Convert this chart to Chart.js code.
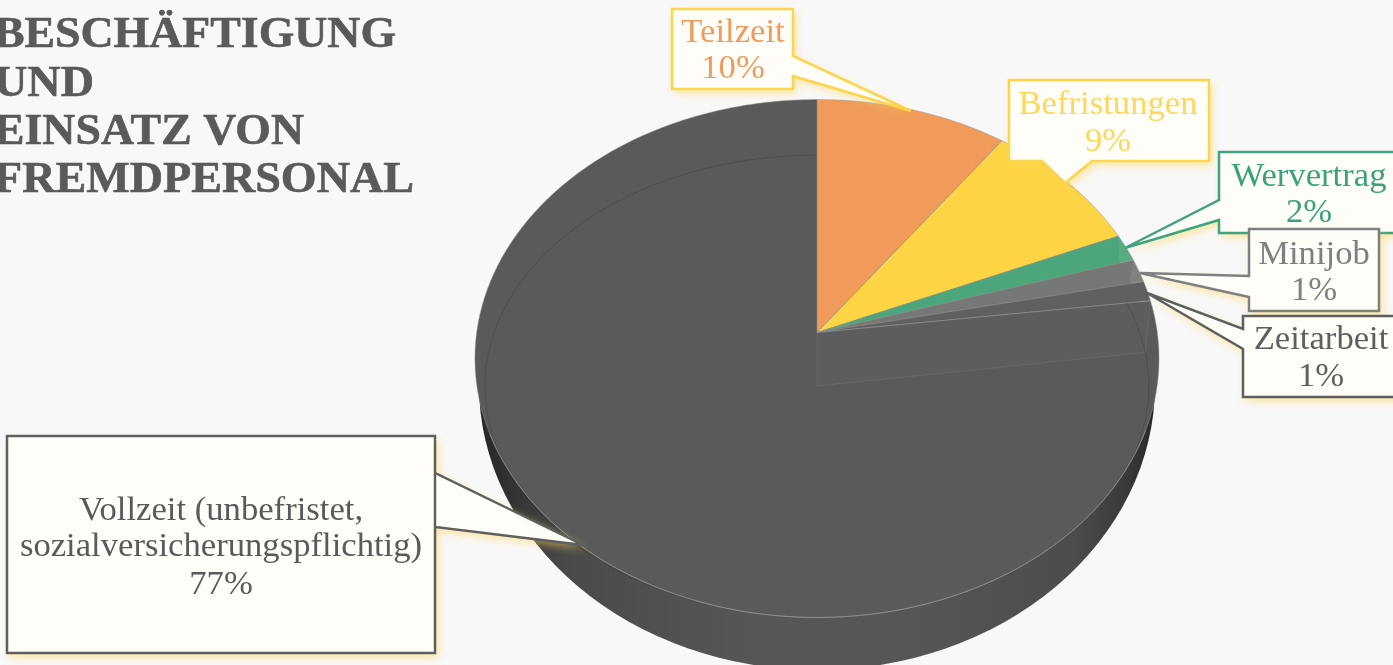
<!DOCTYPE html>
<html><head><meta charset="utf-8">
<style>html,body{margin:0;padding:0;background:#f8f8f8;overflow:hidden}canvas{display:block}</style>
<script src="https://cdn.jsdelivr.net/npm/chart.js@4/dist/chart.umd.js"></script>
</head><body><canvas id="c" width="1393" height="665"></canvas>
<script>
// ---- data ----
const categories = ['Teilzeit','Befristungen','Wervertrag','Minijob','Zeitarbeit','Vollzeit (unbefristet,\nsozialversicherungspflichtig)'];
const shares = [10, 8.6, 1.7, 1.45, 1.25, 77];
const sliceColors = ['#F09B5A','#FDD544','#4CA67B','#767876','#606060','#5A5A5A'];
const titleLines = ['BESCHÄFTIGUNG','UND','EINSATZ VON','FREMDPERSONAL'];

// ---- layout / style ----
const titleEnds = [396,94,304,414], titleBase = [47,96,144,192];
const callouts = [
 {i:0,box:[672,9,121,80],ptr:[[793,56],[911,111],[793,76]],tx:733,by:[42,78],line:'#FDD44A',text:'#F09B5E'},
 {i:1,box:[1009,80,200,81],ptr:[[1092,161],[1065,183],[1042,161]],tx:1108,by:[114,151],line:'#FDD44A',text:'#FDD85A'},
 {i:2,box:[1219,152,190,81],ptr:[[1219,220],[1125,248],[1219,200]],tx:1309,by:[186,222],line:'#3FA37F',text:'#3AA27C'},
 {i:3,box:[1249,229,130,82],ptr:[[1249,297],[1140,273],[1249,276]],tx:1314,by:[264,300],line:'#7F7F7F',text:'#7F7F7F'},
 {i:4,box:[1243,316,170,81],ptr:[[1243,349],[1147,293],[1243,329]],tx:1321,by:[349,386],line:'#5F5F5F',text:'#5F5F5F'},
 {i:5,box:[7,436,428,217],ptr:[[435,527],[583,545],[435,473]],tx:221,by:[520,556,594],line:'#5F5F5F',text:'#5A5A5A'}
];
const FONT = '"Liberation Serif", Georgia, serif';
const LABEL_STRETCH = 1.05;

// perspective of the top face: unit-disc point -> screen offset from the arc centre
const pers = {a:1.0235, b:0.771, k:0.1004};
function proj(el, ang, r){
  const u = Math.cos(ang)*r, v = Math.sin(ang)*r, d = 1 - pers.k*v;
  return [el.x + el.outerRadius*pers.a*u/d, el.y + el.outerRadius*pers.b*v/d];
}
function tracePts(ctx, pts){ pts.forEach((p,n)=> n?ctx.lineTo(p[0],p[1]):ctx.moveTo(p[0],p[1])); }
function drawPerspectiveArc(ctx){
  const s=this.startAngle, e=this.endAngle, n=Math.max(4,Math.ceil((e-s)/0.01)), pts=[[this.x,this.y]];
  for(let i=0;i<=n;i++) pts.push(proj(this,s+(e-s)*i/n,1));
  ctx.save();
  ctx.beginPath(); tracePts(ctx,pts); ctx.closePath();
  ctx.fillStyle=this.options.backgroundColor; ctx.fill();
  ctx.lineWidth=1; ctx.strokeStyle='rgba(150,150,150,0.5)'; ctx.stroke();
  ctx.restore();
}

const pie3d = {
  id:'pie3d',
  beforeDatasetsDraw(chart){
    const ctx=chart.ctx, cx=chart.getDatasetMeta(0).data[0].x;
    chart.getDatasetMeta(0).data.forEach(el=>{el.draw=drawPerspectiveArc;});
    const g=ctx.createLinearGradient(cx-338,0,cx+338,0);
    g.addColorStop(0,'#262626');g.addColorStop(.05,'#333');g.addColorStop(.13,'#4a4a4a');g.addColorStop(.4,'#565656');
    g.addColorStop(.65,'#565656');g.addColorStop(.88,'#4c4c4c');g.addColorStop(.96,'#383838');g.addColorStop(1,'#282828');
    ctx.save();ctx.beginPath();ctx.ellipse(cx,385,338,285,0,0,Math.PI*2);ctx.fillStyle=g;ctx.fill();ctx.restore();
  },
  afterDatasetsDraw(chart){
    const ctx=chart.ctx, arcs=chart.getDatasetMeta(0).data, z=arcs[4], cx=z.x, cy=z.y;
    const ang=z.endAngle, rim=proj(z,ang,1);
    // see-through base of the solid
    const base=[cx,386], bx=332, by=231;
    const bAng=ang-0.02, bRim=[base[0]+bx*Math.cos(bAng),base[1]+by*Math.sin(bAng)];
    ctx.save();
    ctx.lineWidth=1;
    ctx.beginPath();tracePts(ctx,[[cx,cy],rim,[bRim[0],bRim[1]],base]);ctx.closePath();
    ctx.fillStyle='rgba(255,255,255,0.022)';ctx.fill();
    ctx.strokeStyle='rgba(255,255,255,0.07)';ctx.stroke();
    ctx.strokeStyle='rgba(30,30,30,0.2)';
    ctx.beginPath();ctx.ellipse(base[0],base[1],bx,by,0,Math.PI*0.62,Math.PI*1.5);ctx.stroke();
    ctx.beginPath();ctx.ellipse(base[0],base[1],bx,by,0,-Math.PI*0.12,Math.PI*0.1);ctx.stroke();
    ctx.restore();
    // lighter rim facets on the two narrow slices
    [arcs[2],arcs[3]].forEach(a=>{
      ctx.save();ctx.beginPath();tracePts(ctx,[proj(a,a.startAngle,1),proj(a,a.endAngle,1),proj(a,a.endAngle,.955)]);ctx.closePath();
      ctx.fillStyle='rgba(255,255,255,0.07)';ctx.fill();ctx.restore();
    });
    // rim highlight along the front of the top face
    ctx.save();ctx.beginPath();
    const pts=[];for(let t=0.12;t<=0.88;t+=0.005)pts.push(proj(z,Math.PI*t,1));
    tracePts(ctx,pts);ctx.strokeStyle='rgba(170,170,170,0.45)';ctx.lineWidth=1;ctx.stroke();ctx.restore();

    // title
    ctx.save();ctx.fillStyle='#5A5A5A';ctx.strokeStyle='#5A5A5A';ctx.lineWidth=.6;ctx.font='bold 44px '+FONT;ctx.textBaseline='alphabetic';ctx.textAlign='left';
    titleLines.forEach((t,i)=>{
      const x=-6, sx=(titleEnds[i]-x)/ctx.measureText(t).width;
      ctx.save();ctx.translate(x,titleBase[i]);ctx.scale(sx,1);ctx.fillText(t,0,0);ctx.strokeText(t,0,0);ctx.restore();
    });
    ctx.restore();

    // callouts
    const values=chart.data.datasets[0].data, labels=chart.data.labels;
    callouts.forEach(c=>{
      const [x,y,w,h]=c.box;
      const tracePts2=p=>p.forEach(q=>ctx.lineTo(q[0],q[1]));
      const path=()=>{
        ctx.beginPath();
        const side=c.ptr[0][0]===x+w&&c.ptr[0][1]>y&&c.ptr[0][1]<y+h?'r':c.ptr[0][1]===y+h?'b':'l';
        ctx.moveTo(x,y);ctx.lineTo(x+w,y);
        if(side==='r')tracePts2(c.ptr);
        ctx.lineTo(x+w,y+h);
        if(side==='b')tracePts2(c.ptr);
        ctx.lineTo(x,y+h);
        if(side==='l')tracePts2(c.ptr);
        ctx.closePath();
      };
      ctx.save();
      ctx.shadowColor='rgba(250,215,90,0.6)';ctx.shadowBlur=9;ctx.shadowOffsetX=3;ctx.shadowOffsetY=4;
      path();ctx.fillStyle='rgba(255,254,249,0.98)';ctx.fill();
      ctx.shadowColor='transparent';
      path();ctx.lineWidth=2.5;ctx.lineJoin='miter';ctx.strokeStyle=c.line;ctx.stroke();
      const lines=labels[c.i].split('\n').concat(Math.round(values[c.i])+'%');
      ctx.fillStyle=c.text;ctx.font='33px '+FONT;ctx.textAlign='center';ctx.textBaseline='alphabetic';
      lines.forEach((t,n)=>{
        ctx.save();ctx.translate(c.tx,c.by[n]);ctx.scale(LABEL_STRETCH,1);ctx.fillText(t,0,0);ctx.restore();
      });
      ctx.restore();
    });
  }
};

new Chart(document.getElementById('c'),{
  type:'pie',
  data:{labels:categories,datasets:[{data:shares,backgroundColor:sliceColors,borderWidth:0}]},
  options:{
    responsive:false,animation:false,
    layout:{padding:{left:241,right:0,top:0,bottom:0}},
    plugins:{legend:{display:false},tooltip:{enabled:false},title:{display:false}}
  },
  plugins:[pie3d]
});
</script></body></html>
